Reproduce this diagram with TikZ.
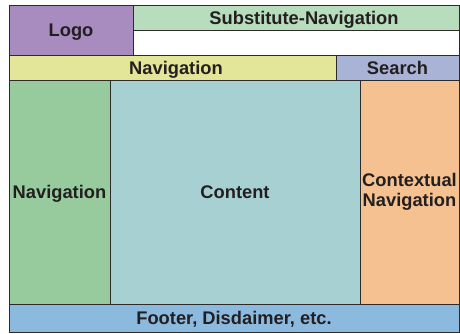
\documentclass[tikz,border=0pt]{standalone}
\usepackage{fontspec}
\setmainfont{Liberation Sans}
\begin{document}
\begin{tikzpicture}[x=1pt,y=-1pt,
  box/.style={draw=linec, line width=0.9pt, anchor=north west, inner sep=0pt, outer sep=0pt,
    font=\fontsize{18.3}{20}\selectfont\bfseries, text=textc, align=center},
  one/.style={text height=13.1pt, text depth=0pt},
]
\definecolor{linec}{HTML}{2E2A2B}
\definecolor{textc}{HTML}{231F20}
\definecolor{logoc}{HTML}{A88BBF}
\definecolor{subc}{HTML}{B7DDBC}
\definecolor{navc}{HTML}{E3E598}
\definecolor{searchc}{HTML}{A9B3D6}
\definecolor{lnavc}{HTML}{97CB9E}
\definecolor{contc}{HTML}{A7D0D3}
\definecolor{ctxc}{HTML}{F5C191}
\definecolor{footc}{HTML}{8CBADF}
\useasboundingbox (0,0) rectangle (460,333);
\node[box, one, fill=logoc, minimum width=124pt, minimum height=50pt] (logo) at (9,5) {Logo};
\node[box, one, fill=subc, minimum width=326pt, minimum height=25pt, text width=326pt] (sub) at (133,5) {\hspace*{16pt}Substitute-Navigation};
\node[box, fill=white, minimum width=326pt, minimum height=25pt] (blank) at (133,30) {};
\node[box, one, fill=navc, minimum width=327pt, minimum height=25pt, text width=327pt] (nav) at (9,55) {\hspace*{7pt}Navigation};
\node[box, one, fill=searchc, minimum width=123pt, minimum height=25pt] (search) at (336,55) {Search};
\node[box, one, fill=lnavc, minimum width=101pt, minimum height=224pt] (lnav) at (9,80) {Navigation};
\node[box, one, fill=contc, minimum width=250pt, minimum height=224pt] (content) at (110,80) {Content};
\node[box, fill=ctxc, minimum width=99pt, minimum height=224pt] (ctx) at (360,80) {Contextual\\Navigation};
\node[box, one, fill=footc, minimum width=450pt, minimum height=28pt] (foot) at (9,304) {Footer, Disdaimer, etc.};
\end{tikzpicture}
\end{document}
